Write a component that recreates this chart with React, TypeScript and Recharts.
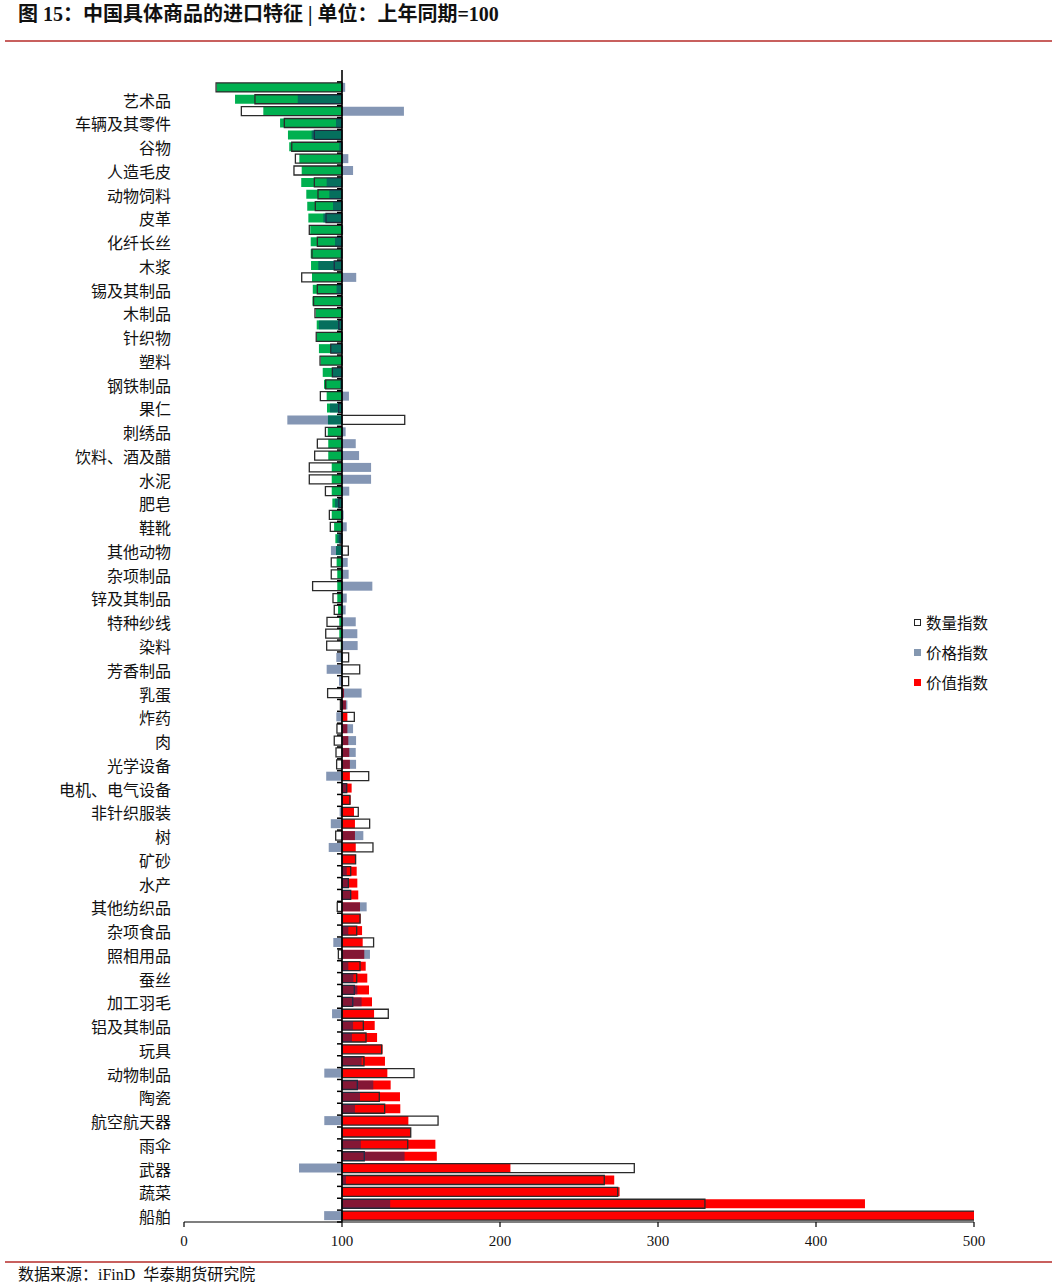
import React from "react";
import { BarChart, Bar, XAxis, YAxis, Cell, ReferenceLine } from "recharts";

// labelled categories (every second row carries a label)
const LABELS = [
  "艺术品", "车辆及其零件", "谷物", "人造毛皮", "动物饲料", "皮革", "化纤长丝", "木浆",
  "锡及其制品", "木制品", "针织物", "塑料", "钢铁制品", "果仁", "刺绣品", "饮料、酒及醋",
  "水泥", "肥皂", "鞋靴", "其他动物", "杂项制品", "锌及其制品", "特种纱线", "染料",
  "芳香制品", "乳蛋", "炸药", "肉", "光学设备", "电机、电气设备", "非针织服装", "树",
  "矿砂", "水产", "其他纺织品", "杂项食品", "照相用品", "蚕丝", "加工羽毛", "铝及其制品",
  "玩具", "动物制品", "陶瓷", "航空航天器", "雨伞", "武器", "蔬菜", "船舶",
];

// 数量指数
const QUANTITY = [
  20.3, 44.9, 36.3, 63.5, 82.5, 68.2, 70.5, 69.6, 82.5, 84.8,
  83.1, 89.9, 79.3, 84.4, 81, 95.1, 74.5, 84.4, 82, 82.9,
  98, 83.7, 92.9, 86.1, 93.9, 89.7, 86.3, 97.9, 139.7, 89.5,
  84.4, 82.7, 79.3, 79.3, 89.5, 98, 92, 92.6, 98.8, 104,
  93.2, 93.2, 81.4, 94.3, 95.1, 90.5, 89.7, 90.3, 104.2, 111.2,
  104.2, 90.9, 99, 107.8, 96.8, 95.1, 96.2, 96.6, 116.9, 103,
  105, 110.3, 117.5, 96, 119.6, 108.6, 105.5, 104, 105.5, 97,
  111.4, 109.3, 120, 97.7, 111.4, 109.3, 107.8, 106.8, 129.3, 113.5,
  115.2, 125.1, 113.9, 145.6, 109.7, 123.6, 127, 160.8, 143.5, 141.6,
  114.1, 285, 266, 274.5, 329.7, 565,
];

// 价格指数
const PRICE = [
  102, 72, 139.2, 96.2, 80.8, 98.3, 104, 107, 90.3, 92,
  94.3, 88.2, 100.7, 95.6, 99, 85, 109, 96.6, 99.1, 100.6,
  85.4, 100.5, 93, 100.5, 94, 98.8, 104.4, 92.4, 65.4, 102.3,
  108.7, 110.8, 118.4, 118.4, 104.6, 95.6, 101, 103, 97, 93,
  103.6, 104.2, 119.2, 103, 102.3, 108.7, 109.7, 109.9, 96.4, 90.3,
  98.1, 112.4, 103.4, 96.4, 107, 108.9, 108.7, 108.9, 90, 103,
  100.5, 98.5, 92.9, 113.5, 91.6, 100.3, 103, 104, 105.5, 115.6,
  100.4, 104, 94.5, 117.7, 104, 107.2, 109.7, 112.4, 93.7, 107,
  106.3, 100.5, 112.4, 88.8, 119.8, 111.4, 108.2, 88.8, 100, 111.9,
  139.6, 72.8, 102.5, 100.4, 130.5, 88.7,
];

// 价值指数
const VALUE = [
  20.7, 32.3, 50.2, 60.8, 65.8, 66.6, 73, 74.5, 74.2, 77.4,
  78, 78.7, 79.9, 80.2, 80.2, 80.4, 81, 81.5, 81.3, 83.4,
  84, 84.1, 85.4, 86.5, 87.8, 88.6, 90.3, 90.5, 91.1, 91,
  91.3, 91.3, 93.5, 93.5, 93.5, 93.9, 93.5, 95, 95.8, 96.2,
  96.6, 97, 97, 97, 97.5, 98.3, 98.3, 99.2, 99.3, 99.7,
  100.3, 101.3, 102.5, 103.4, 103.4, 104, 104.6, 105, 105, 106.1,
  105.5, 107.6, 108.2, 108.2, 108.7, 108.9, 109.3, 109.7, 110.3, 111.4,
  111.8, 112.7, 113.1, 114.1, 115, 116, 117.1, 119, 120.3, 120.7,
  122.2, 125.7, 127.2, 128.7, 130.8, 136.7, 136.9, 142, 143.5, 159.1,
  160, 206.6, 272.3, 275.7, 431, 501,
];

const X_TICKS = [0, 100, 200, 300, 400, 500];

const GREEN = "#00b050";
const RED = "#ff0000";
const PRICE_FILL = "#092d69";

const W = 1057;
const H = 1288;
const PLOT_LEFT = 184;
const PLOT_RIGHT = 974;
const PLOT_TOP = 70;
const PLOT_BOTTOM = 1222;
const X_AXIS_H = 30;

// one empty slot on top, then the 96 goods
const rows = [{ key: "c0", label: "", q: null, p: null, v: null } as any].concat(
  VALUE.map((v, i) => ({
    key: `c${i + 1}`,
    label: i % 2 === 1 ? LABELS[(i - 1) / 2] : "",
    q: QUANTITY[i],
    p: PRICE[i],
    v,
  }))
);

const BAND = (PLOT_BOTTOM - PLOT_TOP) / rows.length;
const X100 = PLOT_LEFT + ((PLOT_RIGHT - PLOT_LEFT) * 100) / 500;

const range = (k: "q" | "p" | "v") => (d: any) => (d[k] == null ? null : [100, d[k]]);

function CategoryTick(props: any) {
  const { x, y, payload } = props;
  const idx = rows.findIndex(r => r.key === payload.value);
  const row = rows[idx];
  const tickY = y - BAND / 2;
  return (
    <g>
      {row?.label ? (
        <text
          x={x}
          y={y}
          textAnchor="end"
          dominantBaseline="central"
          fontSize={16}
          fontFamily='"Noto Sans CJK SC", sans-serif'
          fill="#111"
        >
          {row.label}
        </text>
      ) : null}
      {idx > 0 && <line x1={X100 - 5} x2={X100} y1={tickY} y2={tickY} stroke="#000" strokeWidth={1.5} />}
      {idx === rows.length - 1 && (
        <line x1={X100 - 5} x2={X100} y1={y + BAND / 2} y2={y + BAND / 2} stroke="#000" strokeWidth={1.5} />
      )}
    </g>
  );
}

function LegendBox() {
  const items = [
    { name: "数量指数", style: { background: "#fff", border: "1px solid #222" } },
    { name: "价格指数", style: { background: "#8497b0" } },
    { name: "价值指数", style: { background: RED } },
  ];
  return (
    <div style={{ position: "absolute", left: 914, top: 607 }}>
      {items.map(it => (
        <div key={it.name} style={{ display: "flex", alignItems: "center", height: 30 }}>
          <div style={{ width: 7, height: 7, boxSizing: "border-box", marginRight: 5, ...it.style }} />
          <span style={{ fontSize: 15.5, fontFamily: '"Noto Sans CJK SC", sans-serif', color: "#111" }}>
            {it.name}
          </span>
        </div>
      ))}
    </div>
  );
}

export default function App() {
  return (
    <div style={{ position: "absolute", left: 0, top: 0, width: W, height: H, background: "#fff" }}>
      <div
        style={{
          position: "absolute",
          left: 18,
          top: 2,
          fontSize: 20,
          fontWeight: "bold",
          lineHeight: "24px",
          fontFamily: '"Liberation Serif", "Noto Sans CJK SC", serif',
          color: "#111",
          whiteSpace: "nowrap",
        }}
      >
        图 15：中国具体商品的进口特征 | 单位：上年同期=100
      </div>
      <div style={{ position: "absolute", left: 5, top: 40, width: 1047, height: 2, background: "#c8605e" }} />

      <div style={{ position: "absolute", left: 0, top: 0 }}>
        <BarChart
          width={W}
          height={H}
          data={rows}
          layout="vertical"
          barGap={-9}
          margin={{ top: PLOT_TOP, right: W - PLOT_RIGHT, bottom: H - PLOT_BOTTOM - X_AXIS_H, left: 0 }}
        >
          <XAxis
            type="number"
            domain={[0, 500]}
            ticks={X_TICKS}
            allowDataOverflow
            height={X_AXIS_H}
            tickSize={5}
            tickMargin={8}
            axisLine={{ stroke: "#000", strokeWidth: 1.2 }}
            tickLine={{ stroke: "#000", strokeWidth: 1.2 }}
            tick={{ fontSize: 15, fontFamily: '"Liberation Serif", serif', fill: "#111" }}
          />
          <YAxis
            type="category"
            dataKey="key"
            width={PLOT_LEFT}
            interval={0}
            axisLine={false}
            tickLine={false}
            tickSize={0}
            tickMargin={13}
            tick={<CategoryTick />}
          />
          <Bar dataKey={range("v")} barSize={9} isAnimationActive={false}>
            {rows.map(r => (
              <Cell key={r.key} fill={r.v != null && r.v > 100 ? RED : GREEN} />
            ))}
          </Bar>
          <Bar
            dataKey={range("q")}
            barSize={9}
            fill="none"
            stroke="#2a2a2a"
            strokeWidth={1.3}
            isAnimationActive={false}
          />
          <Bar dataKey={range("p")} barSize={9} fill={PRICE_FILL} fillOpacity={0.5} isAnimationActive={false} />
          <ReferenceLine x={100} stroke="#000" strokeWidth={1.6} />
        </BarChart>
      </div>

      <LegendBox />

      <div style={{ position: "absolute", left: 5, top: 1261, width: 1047, height: 2, background: "#c8605e" }} />
      <div
        style={{
          position: "absolute",
          left: 18,
          top: 1265,
          fontSize: 16,
          lineHeight: "20px",
          fontFamily: '"Liberation Serif", "Noto Sans CJK SC", serif',
          color: "#111",
          whiteSpace: "nowrap",
        }}
      >
        数据来源：iFinD&nbsp;&nbsp;华泰期货研究院
      </div>
    </div>
  );
}
